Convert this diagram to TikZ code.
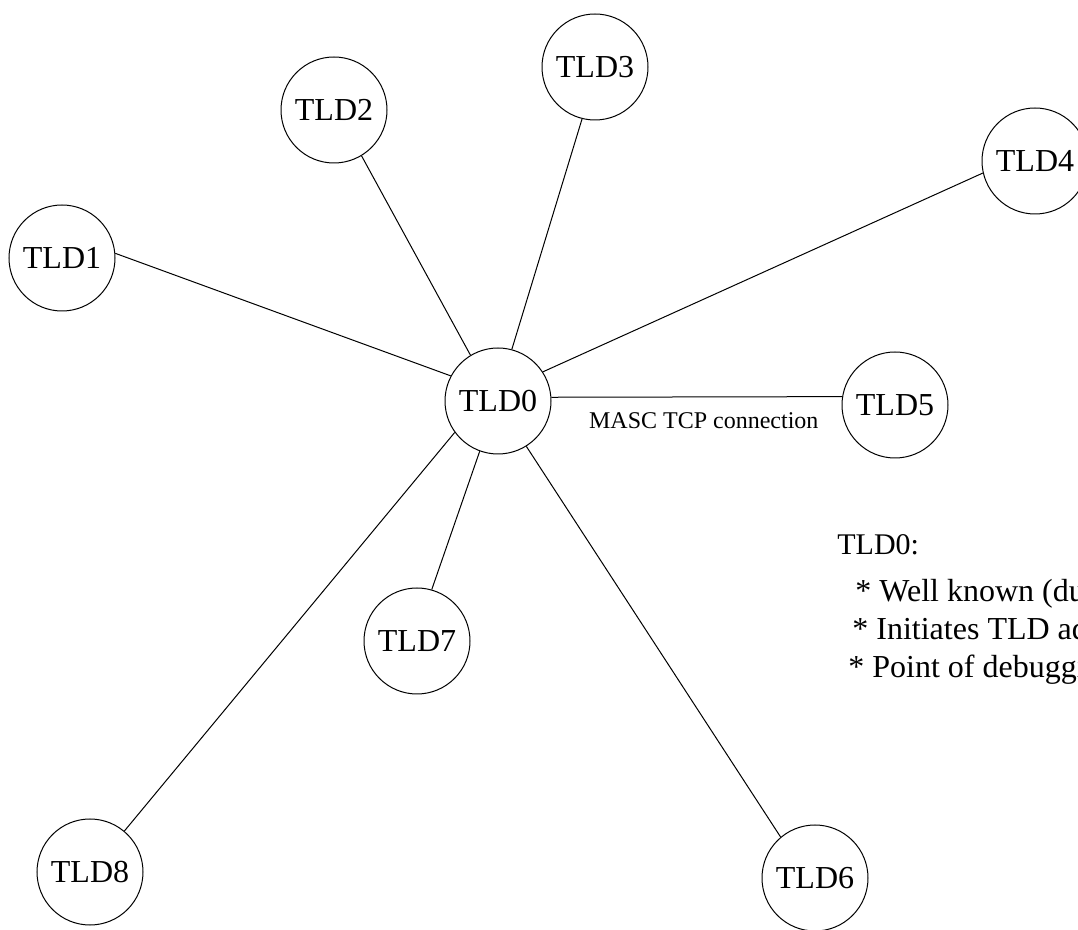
\documentclass[tikz,border=0pt]{standalone}
\usepackage{fontspec}
\setmainfont{Liberation Serif}
\tikzset{
  tld/.style={draw,circle,line width=0.5pt,minimum size=53pt,inner sep=0pt,font=\fontsize{16}{19}\selectfont},
  link/.style={line width=0.5pt},
  note/.style={anchor=base west,inner sep=0pt,font=\fontsize{15}{18}\selectfont},
  item/.style={note,font=\fontsize{16}{19}\selectfont}
}
\begin{document}
\begin{tikzpicture}[x=0.5pt,y=-0.5pt]
\useasboundingbox (0,0) rectangle (1078,930);
\node[tld] (tld0) at (498,401) {TLD0};
\node[tld] (tld1) at (62,258) {TLD1};
\node[tld] (tld2) at (334,110) {TLD2};
\node[tld] (tld3) at (595,67) {TLD3};
\node[tld] (tld4) at (1035,161) {TLD4};
\node[tld] (tld5) at (895,405) {TLD5};
\node[tld] (tld6) at (815,878) {TLD6};
\node[tld] (tld7) at (417,641) {TLD7};
\node[tld] (tld8) at (90,872) {TLD8};

\draw[link] (tld1.5) -- (tld0.152);
\draw[link] (tld2.301) -- (tld0.121);
\draw[link] (tld3.256) -- (tld0.75);
\draw[link] (tld4.193) -- (tld0.33);
\draw[link] (tld5.171) -- (tld0.4) node[midway,below=4pt,xshift=3.5pt,font=\fontsize{12}{14}\selectfont] (masc) {MASC TCP connection};
\draw[link] (tld6.130) -- (tld0.302);
\draw[link] (tld7.74) -- (tld0.250);
\draw[link] (tld8.50) -- (tld0.216);

% notes on the right
\node[note] (head) at (837,555) {TLD0:};
\node[item] (well) at (855,602) {* Well known (du};
\node[item] (init) at (852,640) {* Initiates TLD ad};
\node[item] (dbg) at (848,678) {* Point of debuggi};
\end{tikzpicture}
\end{document}
